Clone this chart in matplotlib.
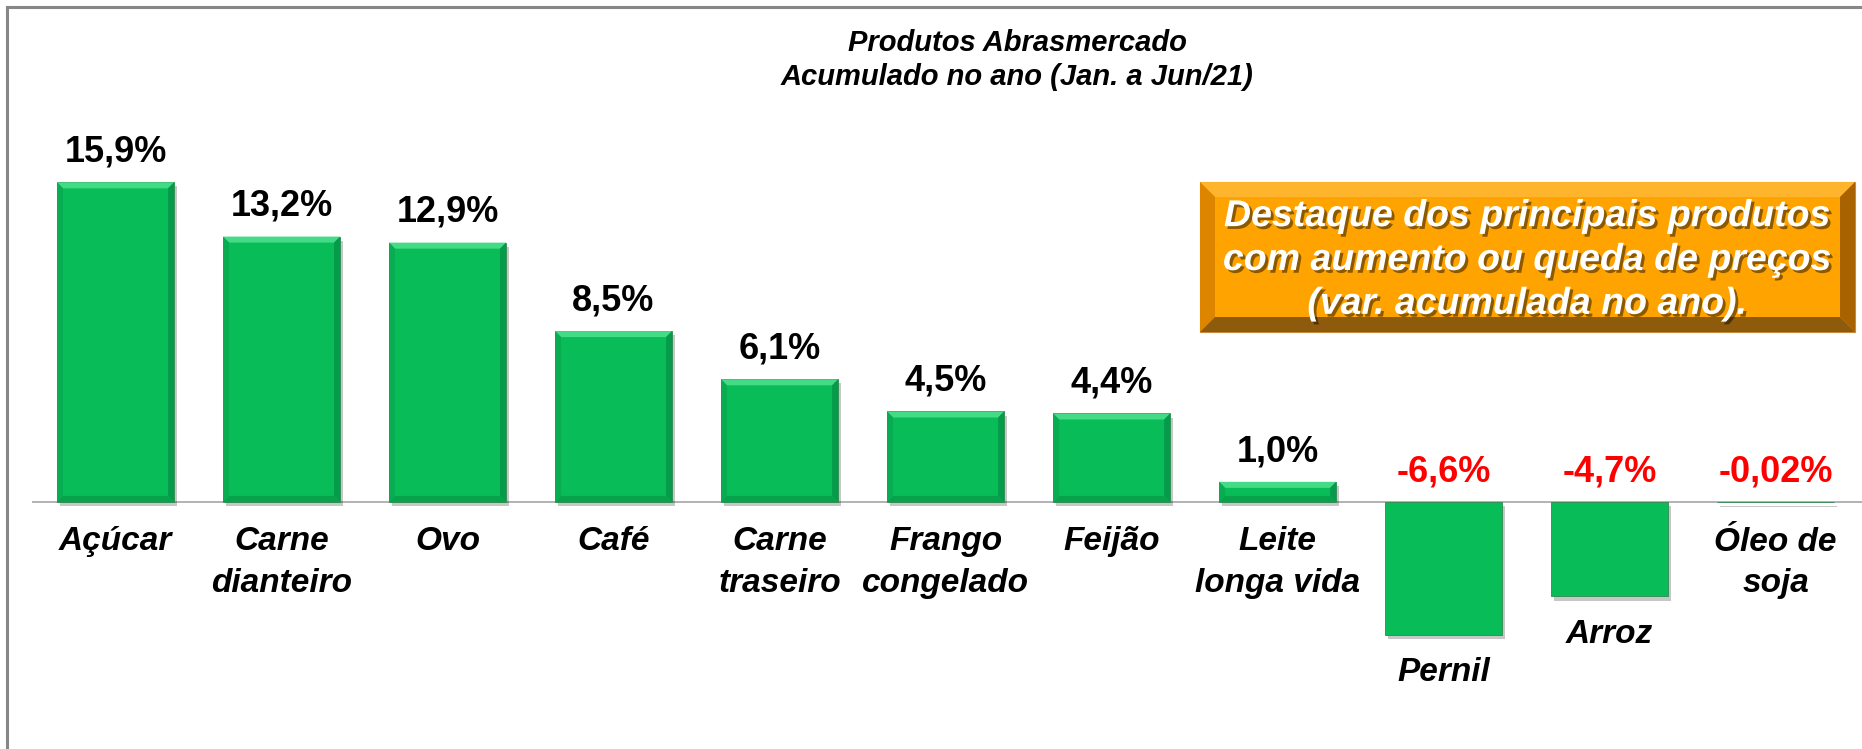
import matplotlib
matplotlib.use("Agg")
import matplotlib.pyplot as plt
import matplotlib.patheffects as pe
from matplotlib.patches import Polygon
from matplotlib.lines import Line2D
from matplotlib.transforms import IdentityTransform

# data
produtos = ["Açúcar", "Carne\ndianteiro", "Ovo", "Café", "Carne\ntraseiro",
            "Frango\ncongelado", "Feijão", "Leite\nlonga vida", "Pernil",
            "Arroz", "Óleo de\nsoja"]
variacao = [15.9, 13.2, 12.9, 8.5, 6.1, 4.5, 4.4, 1.0, -6.6, -4.7, -0.02]
rotulos = ["15,9%", "13,2%", "12,9%", "8,5%", "6,1%", "4,5%", "4,4%",
           "1,0%", "-6,6%", "-4,7%", "-0,02%"]

titulo = "Produtos Abrasmercado\nAcumulado no ano (Jan. a Jun/21)"
destaque = ("Destaque dos principais produtos\ncom aumento ou queda de preços\n"
            "(var. acumulada no ano).")

W, H = 1862, 749
fig = plt.figure(figsize=(W / 100, H / 100), dpi=100)
fig.patch.set_facecolor("white")

ax = fig.add_axes([32 / W, 0, 1 - 32 / W, 1])
ax.set_xlim(-0.503, 10.52)
ax.set_ylim(-12.29, 24.97)
ax.axis("off")

x = list(range(len(produtos)))
green = "#08BC58"
bars = ax.bar(x, variacao, width=0.705, color=green, edgecolor="#2F8A50",
              linewidth=0.6, zorder=3,
              path_effects=[pe.withSimplePatchShadow(offset=(2, -3), shadow_rgbFace="k", alpha=0.22)])
ax.axhline(0, color="#A6A6A6", lw=1.2, zorder=2)


def bevel(target, x0, y0, x1, y1, b, cols, z):
    # x0,y0 lower-left, x1,y1 upper-right in pixels; cols = top, left, right, bottom
    b = min(b, (y1 - y0) / 2, (x1 - x0) / 2)
    polys = [
        [(x0, y1), (x1, y1), (x1 - b, y1 - b), (x0 + b, y1 - b)],
        [(x0, y0), (x0, y1), (x0 + b, y1 - b), (x0 + b, y0 + b)],
        [(x1, y0), (x1, y1), (x1 - b, y1 - b), (x1 - b, y0 + b)],
        [(x0, y0), (x1, y0), (x1 - b, y0 + b), (x0 + b, y0 + b)],
    ]
    for p, c in zip(polys, cols):
        target.add_artist(Polygon(p, closed=True, facecolor=c, edgecolor="none",
                                  transform=IdentityTransform(), zorder=z))


for b in bars:
    bb = b.get_bbox()
    (px0, py0), (px1, py1) = ax.transData.transform([(bb.x0, bb.y0), (bb.x1, bb.y1)])
    if py1 - py0 < 2:
        continue
    bevel(ax, px0, py0, px1, py1, 6, ["#45DB86", "#07AD50", "#069A4B", "#08A24D"], 4)

for xi, v, lab, nome in zip(x, variacao, rotulos, produtos):
    top = max(v, 0)
    ax.annotate(lab, (xi, top), xytext=(0, 15), textcoords="offset points",
                ha="center", va="baseline", fontsize=26, fontweight="bold",
                family="Liberation Sans", color="black" if v > 0 else "#FF0000")
    ax.annotate(nome, (xi, min(v, 0)), xytext=(0, -17.5 if v > -1 else -16),
                textcoords="offset points",
                ha="center", va="top", fontsize=24, fontweight="bold",
                fontstyle="italic", family="Liberation Sans", linespacing=1.45)

fig.text(1017 / W, 1 - 60 / H, titulo, ha="center", va="center", fontsize=21,
         fontweight="bold", fontstyle="italic", family="Liberation Sans",
         linespacing=1.25)

# orange highlight box
bx0, bx1, by0, by1 = 1200, 1855, H - 332, H - 182
fig.add_artist(Polygon([(bx0, by0), (bx1, by0), (bx1, by1), (bx0, by1)], closed=True,
                       facecolor="#FFA300", edgecolor="#C98A3A", lw=0.8,
                       transform=IdentityTransform(), zorder=5))
bevel(fig, bx0, by0, bx1, by1, 15, ["#FFB42E", "#DE8500", "#A86300", "#8E5A0C"], 6)
fig.text(1527 / W, 1 - 260 / H, destaque, ha="center", va="center", fontsize=27,
         fontweight="bold", fontstyle="italic", family="Liberation Sans",
         color="white", linespacing=1.28, zorder=7,
         path_effects=[pe.withSimplePatchShadow(offset=(2, -2), shadow_rgbFace="k", alpha=0.45)])

# frame
fig.add_artist(Line2D([7 / W, 7 / W], [0, 1 - 7 / H], color="#878787", lw=2.2,
                      transform=fig.transFigure))
fig.add_artist(Line2D([7 / W, 1], [1 - 7 / H, 1 - 7 / H], color="#878787", lw=2.2,
                      transform=fig.transFigure))

fig.savefig("out.png", dpi=100)
